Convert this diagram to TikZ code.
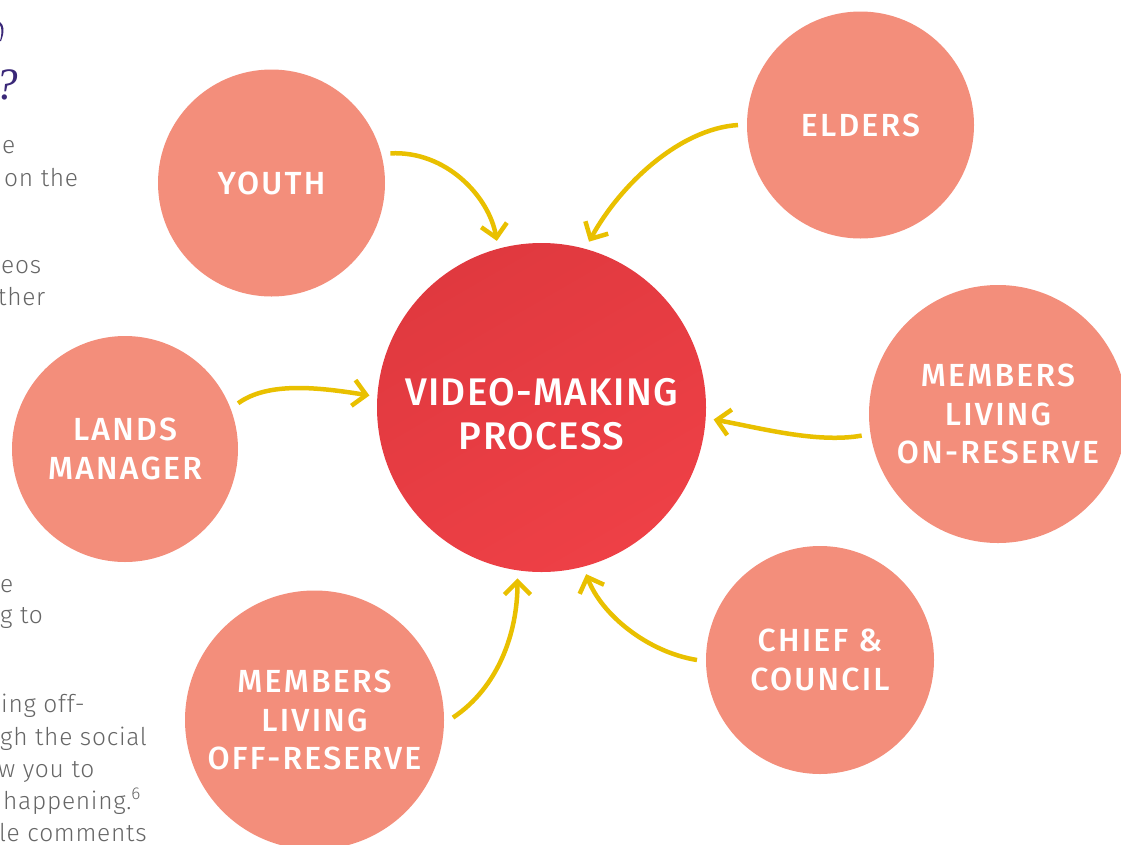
\documentclass[tikz,border=0pt]{standalone}
\usepackage{fontspec}
\setmainfont{Fira Sans}
\newfontfamily\labelfont[LetterSpace=7]{Fira Sans Medium}
\newfontfamily\hubfont[LetterSpace=3.5]{Fira Sans Medium}
\newfontfamily\bodyfont[LetterSpace=3]{Fira Sans Light}
\newfontfamily\headfont{Liberation Serif}
\usetikzlibrary{arrows.meta}
\definecolor{salmon}{HTML}{F38E7B}
\definecolor{hubA}{HTML}{E0393F}
\definecolor{hubB}{HTML}{EE4046}
\definecolor{flowgold}{HTML}{E9C000}
\definecolor{bodygray}{HTML}{666666}
\definecolor{headpurple}{HTML}{3A2878}

\begin{document}
\begin{tikzpicture}[x=1pt,y=-1pt,
  party/.style={circle, fill=salmon, minimum size=#1, inner sep=0pt, outer sep=9pt,
    text=white, align=center, font=\labelfont\fontsize{32}{38.5}\selectfont},
  hub/.style={circle, minimum size=329pt, inner sep=0pt, outer sep=8pt,
    text=white, align=center, font=\hubfont\fontsize{38.5}{44}\selectfont,
    top color=hubA, bottom color=hubB, shading angle=30},
  flow/.style={draw=flowgold, line width=4.5pt, line cap=butt,
    -{Straight Barb[length=13pt,width=26pt]}},
  side/.style={anchor=base west, text=bodygray, inner sep=0pt,
    font=\bodyfont\fontsize{24.5}{32}\selectfont}
]
\useasboundingbox (0,0) rectangle (1121,844);

% page column on the left, running off the edge
\fill[headpurple] (0,22) .. controls (4,25) and (5,31) .. (1,41)
  -- (0,41) .. controls (2,34) and (2,28) .. (0,25) -- cycle;
\node[anchor=base west, inner sep=0pt, text=headpurple,
  font=\headfont\itshape\fontsize{45}{48}\selectfont] (qmark) at (-5,99) {?};
\node[side] (s1) at (2,153) {e};
\node[side] (s2) at (4,186) {on the};
\node[side] (s3) at (1,273) {eos};
\node[side] (s4) at (-2,305) {ther};
\node[side] (s5) at (0,592) {e};
\node[side] (s6) at (0,623) {g to};
\node[side] (s7) at (1,712) {ing off-};
\node[side] (s8) at (0,745) {gh the social};
\node[side] (s9) at (-2,777) {w you to};
\node[side] (s10) at (3,809) {happening.\textsuperscript{6}};
\node[side] (s11) at (-1,841) {le comments};

% hub and the groups around it
\node[hub] (hub) at (541.5,407.5) {\rule{0pt}{40pt}VIDEO-MAKING\\PROCESS};
\node[party=227pt] (youth) at (271.5,183) {YOUTH};
\node[party=227pt] (elders) at (860.5,125) {ELDERS};
\node[party=226pt] (lands) at (125,449) {LANDS\\MANAGER};
\node[party=258pt] (onres) at (998,414) {MEMBERS\\LIVING\\ON-RESERVE};
\node[party=259pt] (offres) at (314.5,720) {MEMBERS\\LIVING\\OFF-RESERVE};
\node[party=228pt] (chief) at (820,660) {CHIEF \&\\COUNCIL};

% curved arrows into the hub
\draw[flow] (youth.14) .. controls +(55,-3) and +(-8,-45) .. (hub.105.5);
\draw[flow] (elders.180.5) .. controls +(-60,4) and +(30,-55) .. (hub.74.3);
\draw[flow] (lands.22.5) .. controls +(30,-22) and +(-50,-8) .. (hub.176.8);
\draw[flow] (onres.189.5) .. controls +(-45,8) and +(45,8) .. (hub.-4.9);
\draw[flow] (offres.1.3) .. controls +(45,-30) and +(0,55) .. (hub.262.6);
\draw[flow] (chief.180.5) .. controls +(-50,-8) and +(15,40) .. (hub.-75.3);
\end{tikzpicture}
\end{document}
